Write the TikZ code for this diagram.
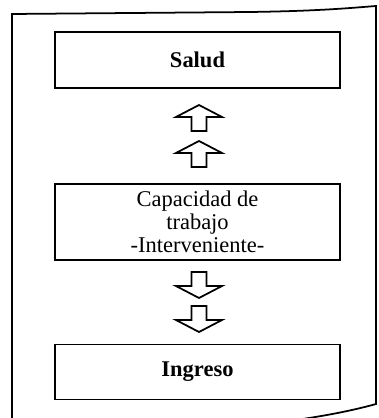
\documentclass[tikz,border=0pt]{standalone}
\usepackage{fontspec}
\setmainfont{Liberation Serif}
\usetikzlibrary{positioning}

\begin{document}
\begin{tikzpicture}[
  x=0.02cm, y=-0.02cm,
  box/.style={rectangle, draw, line width=1pt, minimum width=5.7cm, align=center, font=\fontsize{12.8}{13}\selectfont, inner sep=2pt},
  frame/.style={line width=1pt},
  fatup/.pic={\draw[line width=1pt, fill=white] (-7.5,13) -- (-7.5,-1) -- (-23,-1) -- (0,-13) -- (23,-1) -- (7.5,-1) -- (7.5,13) -- cycle;},
  fatdown/.pic={\draw[line width=1pt, fill=white] (-7.5,-13) -- (-7.5,1) -- (-23,1) -- (0,13) -- (23,1) -- (7.5,1) -- (7.5,-13) -- cycle;}
]
  \useasboundingbox (0,0) rectangle (378,418);
  \clip (0,0) rectangle (378,418);

  % sheet
  \draw[frame] (12,430) -- (12,14) -- (250,12) .. controls (320,11) and (350,8) .. (376,6)
    -- (376,404) .. controls (340,414) and (300,420) .. (250,426);

  \node[box, minimum height=1.12cm] (salud) at (197.5,60) {\textbf{Salud}};
  \node[box, minimum height=1.52cm] (cap) at (197.5,222) {Capacidad de\\trabajo\\-Interveniente-};
  \node[box, minimum height=1.1cm] (ingreso) at (197.5,372) {\textbf{Ingreso}};

  \pic at (199,118) {fatup};
  \pic at (199,154) {fatup};
  \pic at (199,285) {fatdown};
  \pic at (199,319) {fatdown};
\end{tikzpicture}
\end{document}
